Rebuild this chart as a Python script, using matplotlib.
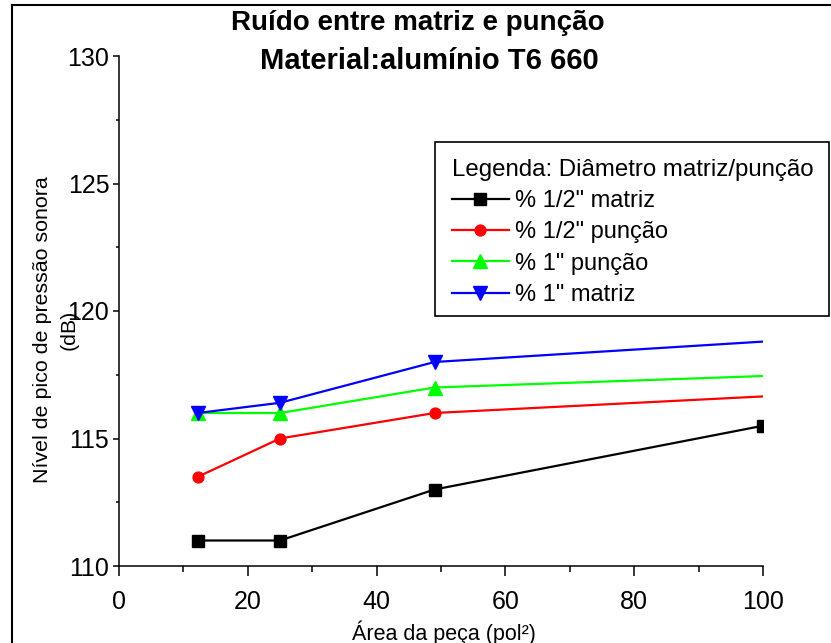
import matplotlib
matplotlib.use("Agg")
import matplotlib.pyplot as plt
from matplotlib.lines import Line2D
from matplotlib.patches import Rectangle

plt.rcParams["font.family"] = ["Liberation Sans", "DejaVu Sans"]

# dados medidos
area = [12.25, 25, 49, 100]
meia_matriz = [111, 111, 113, 115.5]
meia_puncao = [113.5, 115, 116, 116.65]
um_puncao = [116, 116, 117, 117.45]
um_matriz = [116, 116.4, 118, 118.8]

rotulos = ['% 1/2" matriz', '% 1/2" punção', '% 1" punção', '% 1" matriz']

W, H = 831, 643
fig = plt.figure(figsize=(W / 100, H / 100), dpi=100)
ax = fig.add_axes([119 / W, 77 / H, 644 / W, 510 / H])

lw = 1.6
ax.plot(area, meia_matriz, color="black", marker="s", markersize=8.5, lw=lw, label=rotulos[0])
ax.plot(area, meia_puncao, color="red", marker="o", markersize=7.8, lw=lw,
        markevery=slice(0, 3), label=rotulos[1])
ax.plot(area, um_puncao, color="#00ff00", marker="^", markersize=9.8, lw=lw,
        markevery=slice(0, 3), label=rotulos[2])
ax.plot(area, um_matriz, color="blue", marker="v", markersize=9.8, lw=lw,
        markevery=slice(0, 3), label=rotulos[3])

ax.set_xlim(0, 100)
ax.set_ylim(110, 130)
ax.set_xticks(range(0, 101, 20))
ax.set_xticks(range(10, 100, 20), minor=True)
ax.set_yticks(range(110, 131, 5))
ax.set_yticks([112.5, 117.5, 122.5, 127.5], minor=True)

for s in ["top", "right"]:
    ax.spines[s].set_visible(False)
for s in ["left", "bottom"]:
    ax.spines[s].set_linewidth(1.1)

ax.tick_params(axis="x", which="major", direction="out", length=7.5, width=1.1,
               labelsize=18, pad=10)
ax.tick_params(axis="x", which="minor", direction="out", length=4.5, width=1.1)
ax.tick_params(axis="y", which="major", direction="out", length=4.5, width=1.1,
               labelsize=18, pad=2.5)
ax.tick_params(axis="y", which="minor", direction="out", length=2.5, width=1.1)

ax.set_xlabel("Área da peça (pol²)", fontsize=15.5, va="top")
ax.xaxis.set_label_coords((444 - 119) / 644, -0.106)
ax.set_ylabel("Nível de pico de pressão sonora\n(dB)", fontsize=15.4,
              va="center", linespacing=1.55)
ax.yaxis.set_label_coords(-0.098, 0.463)

fig.text(418 / W, 1 - 23 / H, "Ruído entre matriz e punção", fontsize=20,
         fontweight="bold", ha="center", va="center")
fig.text(429 / W, 1 - 61 / H, "Material:alumínio T6 660", fontsize=21,
         fontweight="bold", ha="center", va="center")

# legenda sem moldura própria; a caixa é desenhada à parte, por baixo
leg = ax.legend(title="Legenda: Diâmetro matriz/punção", loc="upper left",
                bbox_to_anchor=(435 / W, 1 - 142 / H), bbox_transform=fig.transFigure,
                frameon=False, fontsize=17, title_fontsize=17.3, alignment="left",
                handlelength=2.4, handletextpad=0.25, labelspacing=0.39,
                borderpad=0.72, borderaxespad=0)
leg.set_zorder(6)
ax.add_patch(Rectangle((435 / W, 1 - 316 / H), 394 / W, 174 / H,
                       transform=fig.transFigure, facecolor="white",
                       edgecolor="black", lw=1.2, zorder=5, clip_on=False))

# moldura externa
fig.add_artist(Line2D([12 / W, 12 / W], [0, 1 - 5 / H], color="black", lw=1.5,
                      transform=fig.transFigure))
fig.add_artist(Line2D([12 / W, 1], [1 - 5 / H, 1 - 5 / H], color="black", lw=1.5,
                      transform=fig.transFigure))

fig.savefig("out.png", dpi=100)
